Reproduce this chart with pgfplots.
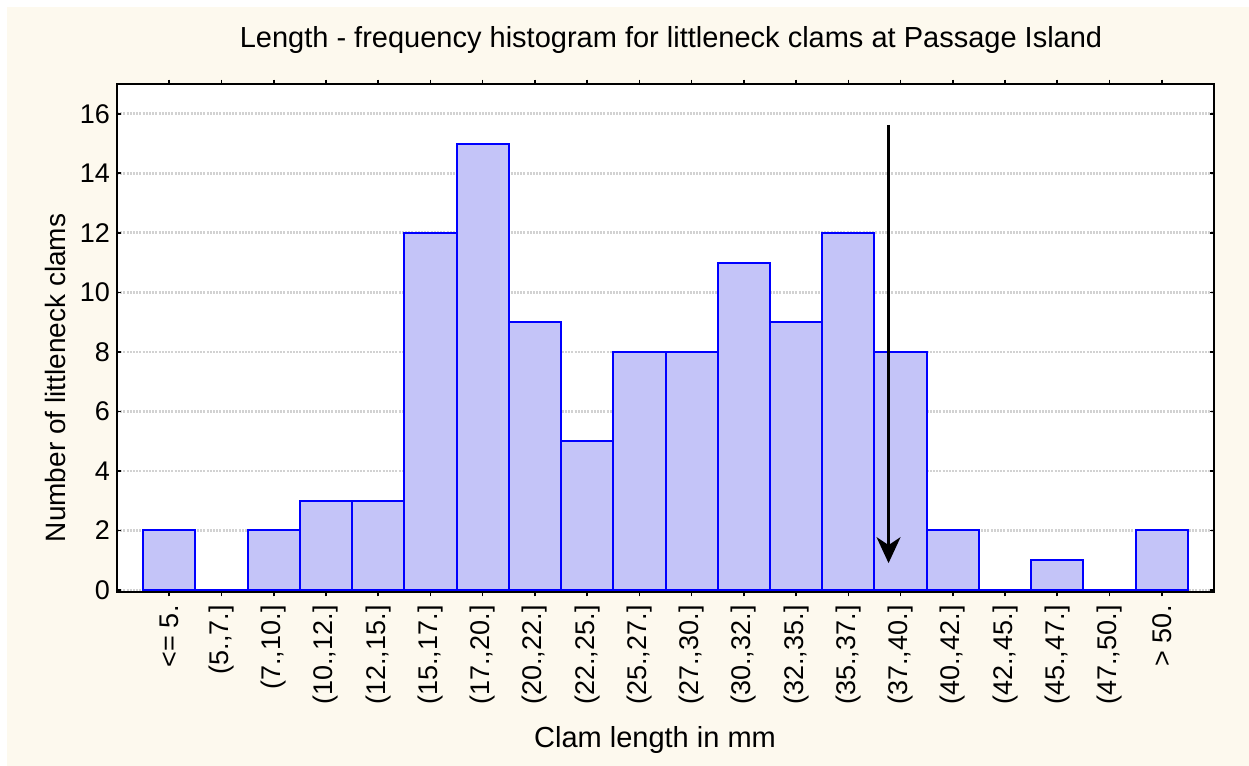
\documentclass[border=0pt]{standalone}
\usepackage{pgfplots}
\pgfplotsset{compat=1.18}
\usepackage{fontspec}
\setmainfont{Liberation Sans}
\usetikzlibrary{arrows.meta}
\definecolor{cream}{HTML}{FDF9EE}
\definecolor{barfill}{HTML}{C4C4F8}
\definecolor{gridgray}{HTML}{D2D2D2}
\pgfplotstableread{
x y
0 2
1 0
2 2
3 3
4 3
5 12
6 15
7 9
8 5
9 8
10 8
11 11
12 9
13 12
14 8
15 2
16 0
17 1
18 0
19 2
}\clamdata
\begin{document}
\begin{tikzpicture}
\path[use as bounding box] (0pt,0pt) rectangle (624.5pt,383pt);
\fill[cream] (3.5pt,0pt) rectangle (624.5pt,379.5pt);
\begin{axis}[
  at={(58.5pt,87pt)}, anchor=south west,
  scale only axis, width=548.5pt, height=254pt,
  xmin=-1, xmax=20, ymin=-0.07, ymax=17,
  axis background/.style={fill=white},
  axis line style={line width=1pt},
  tick style={line width=0.8pt, black},
  major tick length=2.2pt,
  tick align=inside,
  xtick pos=both, ytick pos=both,
  xtick={0,...,19},
  xticklabels={{<= 5.},{(5.,7.]},{(7.,10.]},{(10.,12.]},{(12.,15.]},{(15.,17.]},{(17.,20.]},{(20.,22.]},{(22.,25.]},{(25.,27.]},{(27.,30.]},{(30.,32.]},{(32.,35.]},{(35.,37.]},{(37.,40.]},{(40.,42.]},{(42.,45.]},{(45.,47.]},{(47.,50.]},{> 50.}},
  xticklabel style={rotate=90, anchor=east, font=\fontsize{13.5}{15}\selectfont, xshift=-1pt},
  ytick={0,2,...,16},
  yticklabel style={font=\fontsize{13.5}{15}\selectfont},
  /pgf/number format/assume math mode=true,
  ymajorgrids,
  grid style={gridgray, line width=1.3pt, dash pattern=on 1pt off 0.6pt},
  ybar, bar width=1, bar shift=0pt,
]
\addplot[draw=blue, line width=1pt, fill=barfill] table[x=x,y=y] {\clamdata};
\addplot[ybar=false, sharp plot, black, line width=1.1pt, -{Stealth[length=13pt,width=12pt,inset=4pt]}] coordinates {(13.77,15.63) (13.77,0.9)};
\end{axis}
\node[font=\fontsize{14.5}{17}\selectfont] at (335.5pt,363pt) {Length - frequency histogram for littleneck clams at Passage Island};
\node[font=\fontsize{14.5}{17}\selectfont] at (327.5pt,13pt) {Clam length in mm};
\node[font=\fontsize{14}{17}\selectfont, rotate=90] at (27.5pt,194pt) {Number of littleneck clams};
\end{tikzpicture}
\end{document}
